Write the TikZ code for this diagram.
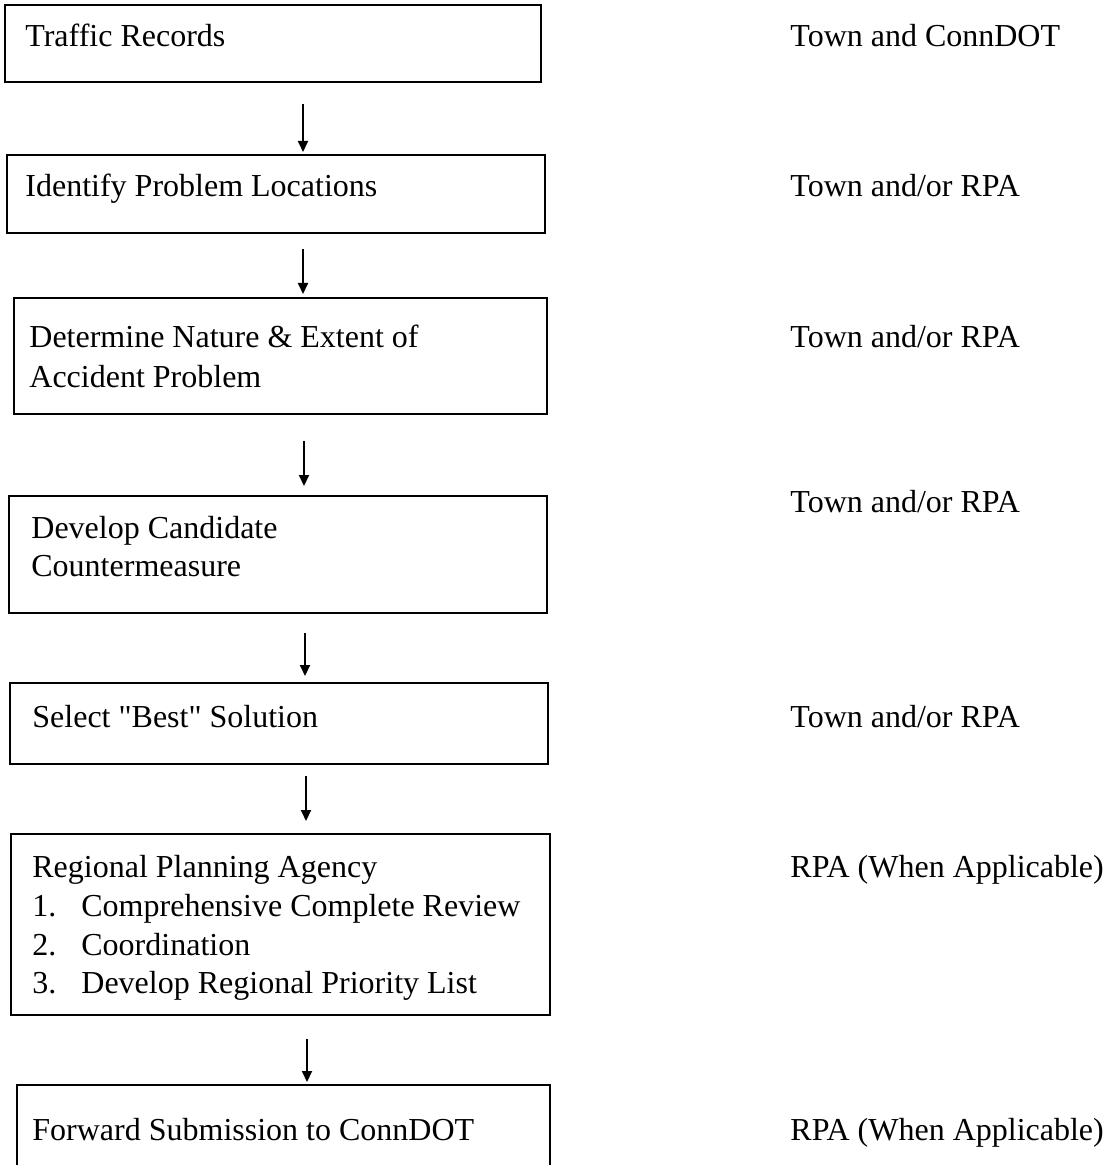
\documentclass[tikz,border=0pt]{standalone}
\usepackage{fontspec}
\setmainfont{Liberation Serif}
\newfontfamily\tnrfont{Liberation Serif}
\usetikzlibrary{arrows.meta,fit}
\begin{document}
\begin{tikzpicture}[x=0.5pt,y=-0.5pt,
  box/.style={draw, line width=1pt, inner sep=0pt},
  txt/.style={anchor=base west, inner sep=0pt, font=\tnrfont\fontsize{16}{19}\selectfont},
  arr/.style={-{Triangle[length=5.5pt,width=5pt]}, line width=1pt}]
\useasboundingbox[fill=white] (0,0) rectangle (1117,1165);
% boxes
\node[box, fit={(5,5) (541,82)}] (b1) {};
\node[box, fit={(7,155) (545,233)}] (b2) {};
\node[box, fit={(14,298) (547,414)}] (b3) {};
\node[box, fit={(9,496) (547,613)}] (b4) {};
\node[box, fit={(10,683) (548,764)}] (b5) {};
\node[box, fit={(11,834) (550,1015)}] (b6) {};
\node[box, fit={(17,1085) (550,1190)}] (b7) {};
% box texts
\node[txt] (t1) at (25,47) {Traffic Records};
\node[txt] (t2) at (25,197) {Identify Problem Locations};
\node[txt] (t3a) at (29,348) {Determine Nature \& Extent of};
\node[txt] (t3b) at (29,387) {Accident Problem};
\node[txt] (t4a) at (31,538) {Develop Candidate};
\node[txt] (t4b) at (31,576) {Countermeasure};
\node[txt] (t5) at (32,727) {Select "Best" Solution};
\node[txt] (t6) at (32,877) {Regional Planning Agency};
\node[txt] (n6a) at (32,916) {1.};
\node[txt] (t6a) at (81,916) {Comprehensive Complete Review};
\node[txt] (n6b) at (32,955) {2.};
\node[txt] (t6b) at (81,955) {Coordination};
\node[txt] (n6c) at (32,993) {3.};
\node[txt] (t6c) at (81,993) {Develop Regional Priority List};
\node[txt] (t7) at (32,1140) {Forward Submission to ConnDOT};
% responsible parties
\node[txt] (r1) at (790,47) {Town and ConnDOT};
\node[txt] (r2) at (790,197) {Town and/or RPA};
\node[txt] (r3) at (790,348) {Town and/or RPA};
\node[txt] (r4) at (790,512) {Town and/or RPA};
\node[txt] (r5) at (790,727) {Town and/or RPA};
\node[txt] (r6) at (790,877) {RPA (When Applicable)};
\node[txt] (r7) at (790,1140) {RPA (When Applicable)};
% arrows
\coordinate (x1) at (303,0);
\coordinate (x2) at (303,0);
\coordinate (x3) at (304,0);
\coordinate (x4) at (305,0);
\coordinate (x5) at (306,0);
\coordinate (x6) at (307,0);
\draw[arr, shorten <=10.5pt, shorten >=1pt] (b1.south -| x1) -- (b2.north -| x1);
\draw[arr, shorten <=7.5pt, shorten >=1.5pt] (b2.south -| x2) -- (b3.north -| x2);
\draw[arr, shorten <=13pt, shorten >=4.5pt] (b3.south -| x3) -- (b4.north -| x3);
\draw[arr, shorten <=9.5pt, shorten >=3pt] (b4.south -| x4) -- (b5.north -| x4);
\draw[arr, shorten <=5.5pt, shorten >=6pt] (b5.south -| x5) -- (b6.north -| x5);
\draw[arr, shorten <=11.5pt, shorten >=1pt] (b6.south -| x6) -- (b7.north -| x6);
\end{tikzpicture}
\end{document}
